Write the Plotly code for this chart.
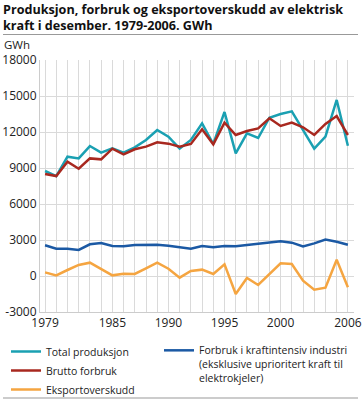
import plotly.graph_objects as go

years = list(range(1979, 2007))
total_produksjon = [8750, 8330, 9945, 9800, 10830, 10280, 10640, 10280, 10720, 11330,
                    12170, 11610, 10610, 11340, 12720, 11000, 13670, 10220, 11890, 11500,
                    13190, 13500, 13720, 12170, 10610, 11610, 14670, 10860]
brutto_forbruk = [8500, 8330, 9530, 8940, 9800, 9720, 10610, 10140, 10560, 10780,
                  11140, 11030, 10780, 11000, 12220, 10970, 12780, 11750, 12080, 12300,
                  13140, 12500, 12780, 12390, 11750, 12670, 13330, 11750]
eksportoverskudd = [300, 55, 500, 920, 1110, 580, 55, 195, 170, 640,
                    1110, 610, -140, 420, 530, 170, 970, -1500, -170, -750,
                    170, 1055, 1000, -390, -1140, -970, 1360, -940]
industri = [2560, 2280, 2280, 2170, 2640, 2750, 2500, 2470, 2580, 2580,
            2610, 2530, 2420, 2280, 2500, 2390, 2500, 2470, 2580, 2690,
            2750, 2890, 2780, 2470, 2720, 3030, 2860, 2610]

y_ticks = [-3000, 0, 3000, 6000, 9000, 12000, 15000, 18000]
x_ticks = [1979, 1985, 1990, 1995, 2000, 2006]

title_text = "Produksjon, forbruk og eksportoverskudd av elektrisk<br>kraft i desember. 1979-2006. GWh"
unit_label = "GWh"

W, H = 364, 402
FONT = "Open Sans"


def px(x):
    return x / W


def py(y):
    return 1 - y / H


fig = go.Figure()
fig.add_trace(go.Scatter(x=years, y=total_produksjon, name="Total produksjon", mode="lines",
                         line=dict(color="#1AA0B2", width=2.5), legend="legend"))
fig.add_trace(go.Scatter(x=years, y=brutto_forbruk, name="Brutto forbruk", mode="lines",
                         line=dict(color="#A8281F", width=2.5), legend="legend"))
fig.add_trace(go.Scatter(x=years, y=eksportoverskudd, name="Eksportoverskudd", mode="lines",
                         line=dict(color="#F5A541", width=2.5), legend="legend"))
fig.add_trace(go.Scatter(x=years, y=industri,
                         name="Forbruk i kraftintensiv industri<br>(eksklusive uprioritert kraft til<br>elektrokjeler)",
                         mode="lines", line=dict(color="#1B59A4", width=2.5), legend="legend2"))

fig.update_layout(
    width=W, height=H,
    margin=dict(l=0, r=0, t=0, b=0, autoexpand=False),
    paper_bgcolor="white", plot_bgcolor="white",
    font=dict(family=FONT, size=12, color="#222"),
    showlegend=True,
    xaxis=dict(domain=[px(40), px(353.5)], range=[1978.55, 2006.5],
               tickvals=x_ticks, ticktext=[str(v) for v in x_ticks],
               showgrid=True, gridcolor="#DADADA", gridwidth=1,
               minor=dict(dtick=1, tick0=1979, showgrid=True, gridcolor="#DADADA", gridwidth=1),
               showline=True, linecolor="#CCCCCC", zeroline=False, ticks="", automargin=False,
               tickfont=dict(size=12, color="#222")),
    yaxis=dict(domain=[py(312), py(60)], range=[-3000, 18000],
               tickvals=y_ticks, ticktext=[str(v) for v in y_ticks],
               showgrid=True, gridcolor="#DADADA", gridwidth=1,
               showline=True, linecolor="#CCCCCC", zeroline=False, ticks="", automargin=False,
               tickfont=dict(size=12, color="#222")),
    legend=dict(x=px(6), y=py(337), xanchor="left", yanchor="top", orientation="v",
                font=dict(size=10.5, color="#222"), tracegroupgap=0, itemwidth=30,
                bgcolor="rgba(0,0,0,0)"),
    legend2=dict(x=px(159), y=py(337), xanchor="left", yanchor="top", orientation="v",
                 font=dict(size=10.5, color="#222"), itemwidth=30, valign="top",
                 bgcolor="rgba(0,0,0,0)"),
    annotations=[
        dict(text="<b>" + title_text + "</b>", xref="paper", yref="paper", x=px(1), y=py(17.5),
             xanchor="left", yanchor="middle", showarrow=False, align="left",
             font=dict(family=FONT, size=12.6, color="#111")),
        dict(text=unit_label, xref="paper", yref="paper", x=px(2), y=py(45),
             xanchor="left", yanchor="middle", showarrow=False,
             font=dict(size=11.5, color="#222")),
    ],
    shapes=[
        dict(type="line", xref="paper", yref="paper", x0=px(3), x1=px(358), y0=py(34.5), y1=py(34.5),
             line=dict(color="#999999", width=1)),
        dict(type="line", xref="paper", yref="paper", x0=px(3), x1=px(358), y0=py(398), y1=py(398),
             line=dict(color="#999999", width=1)),
    ],
)
fig.write_html("out.html", config={"displayModeBar": False},
               post_script="document.body.style.margin='0';document.body.style.padding='0';"
                           "document.body.style.overflow='hidden';")
